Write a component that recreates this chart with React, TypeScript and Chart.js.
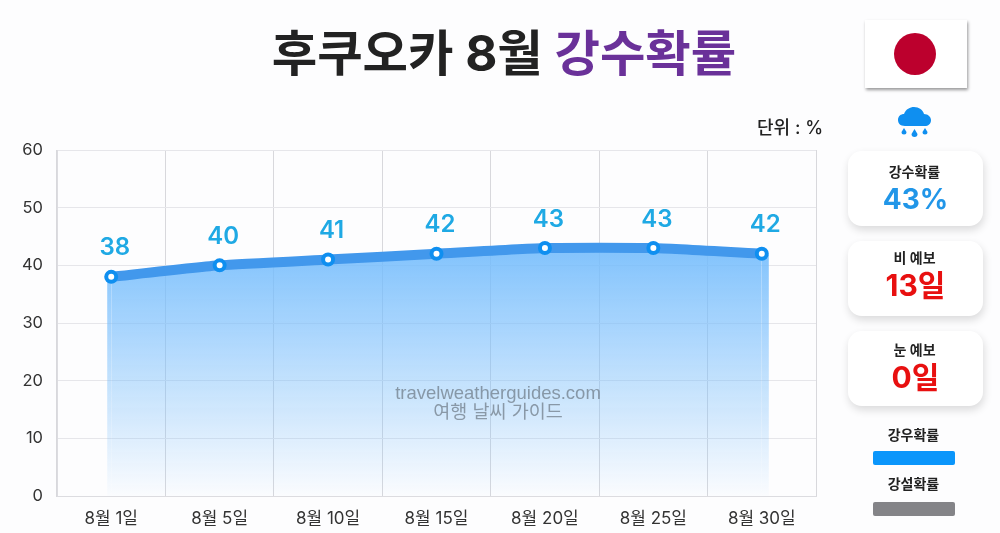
import React, { useEffect, useRef } from "react";
import { Chart, registerables } from "chart.js";
Chart.register(...registerables);

const categories = ["8월 1일", "8월 5일", "8월 10일", "8월 15일", "8월 20일", "8월 25일", "8월 30일"];
const rainChance = [38, 40, 41, 42, 43, 43, 42];
const yTicks = [0, 10, 20, 30, 40, 50, 60];

const KR = 'Inter, "Noto Sans CJK KR", sans-serif';
const NUM = 'Inter, "Noto Sans CJK KR", sans-serif';

const makeGradient = (chart: any) => {
  const a = chart.chartArea;
  const g = chart.ctx.createLinearGradient(0, 255, 0, a.bottom);
  g.addColorStop(0, "rgba(116,188,252,0.88)");
  g.addColorStop(1, "rgba(116,188,252,0.02)");
  return g;
};

const edgePlugin = {
  id: "fillEdges",
  beforeDatasetsDraw(chart: any) {
    const { ctx, chartArea } = chart;
    const pts = chart.getDatasetMeta(0).data;
    const first = pts[0];
    const last = pts[pts.length - 1];
    ctx.save();
    ctx.fillStyle = makeGradient(chart);
    ctx.fillRect(first.x - 4, first.y + 1, 4, chartArea.bottom - first.y - 1);
    ctx.fillRect(last.x, last.y + 1, 7, chartArea.bottom - last.y - 1);
    ctx.restore();
  },
};

const labelPlugin = {
  id: "valueLabels",
  afterDatasetsDraw(chart: any) {
    const { ctx } = chart;
    const meta = chart.getDatasetMeta(0);
    ctx.save();
    ctx.font = `600 24px ${NUM}`;
    ctx.fillStyle = "#1fa9e4";
    ctx.textAlign = "center";
    ctx.textBaseline = "alphabetic";
    meta.data.forEach((p: any, i: number) => {
      ctx.fillText(String(rainChance[i]), p.x + 3.5, p.y - 21.5);
    });
    ctx.restore();
  },
};

const box = (top: number, height: number, title: string, value: string, color: string, titleTop: number, valueTop: number, size: number) => (
  <div style={{ position: "absolute", left: 848, top, width: 135, height, background: "#fff", borderRadius: 14, boxShadow: "1px 4px 9px rgba(0,0,0,0.14)", textAlign: "center", fontFamily: KR }}>
    <div style={{ position: "absolute", left: -2, right: 0, top: titleTop, fontSize: 14, fontWeight: 600, color: "#222", lineHeight: "20px" }}>{title}</div>
    <div style={{ position: "absolute", left: 0, right: 0, top: valueTop, fontSize: size, fontWeight: 700, color, lineHeight: "38px" }}>{value}</div>
  </div>
);

export default function App() {
  const ref = useRef<HTMLCanvasElement>(null);
  useEffect(() => {
    const chart = new Chart(ref.current!, {
      type: "line",
      data: {
        labels: categories,
        datasets: [
          {
            data: rainChance,
            borderColor: "#4298ec",
            borderWidth: 10,
            tension: 0.15,
            pointRadius: 5,
            pointBorderWidth: 4,
            pointBackgroundColor: "#ffffff",
            pointBorderColor: "#0f8ff0",
            fill: true,
            backgroundColor: (c: any) => (c.chart.chartArea ? makeGradient(c.chart) : "rgba(0,0,0,0)"),
          },
        ],
      },
      options: {
        animation: false,
        responsive: false,
        layout: { padding: { top: 150, right: 184, left: 0, bottom: 0 } },
        plugins: { legend: { display: false }, tooltip: { enabled: false } },
        scales: {
          x: {
            offset: true,
            grid: { color: "#d8d8dc", lineWidth: 1, offset: true, tickLength: 0 },
            border: { color: "#dcdce0" },
            ticks: { color: "#333", font: { family: KR, size: 17 }, padding: 13, maxRotation: 0, autoSkip: false },
            afterFit: (s: any) => { s.height = 37; },
          },
          y: {
            min: 0,
            max: 60,
            afterBuildTicks: (s: any) => { s.ticks = yTicks.map((v) => ({ value: v })); },
            grid: { color: "#e6e6ea", lineWidth: 1, tickLength: 0 },
            border: { color: "#dcdce0" },
            ticks: { color: "#333", font: { family: NUM, size: 16.5 }, padding: 14 },
            afterFit: (s: any) => { s.width = 57; },
          },
        },
      },
      plugins: [edgePlugin, labelPlugin],
    } as any);
    return () => chart.destroy();
  }, []);

  return (
    <div style={{ position: "fixed", left: 0, top: 0, width: 1000, height: 533, overflow: "hidden", background: "#fdfdfe" }}>
      <canvas ref={ref} width={1000} height={533} style={{ position: "absolute", left: 0, top: 0, width: 1000, height: 533 }} />
      <div style={{ position: "absolute", left: 0, width: 1008, top: 16, textAlign: "center", fontFamily: KR, fontSize: 49.4, fontWeight: 700, lineHeight: "74px", color: "#222" }}>
        후쿠오카 8월 <span style={{ color: "#6a3199" }}>강수확률</span>
      </div>
      <div style={{ position: "absolute", left: 757, top: 116, fontFamily: KR, fontSize: 18, fontWeight: 500, color: "#222", lineHeight: "24px" }}>단위 : %</div>
      <div style={{ position: "absolute", left: 300, width: 396, top: 383, textAlign: "center", fontFamily: 'Liberation Sans, sans-serif', fontSize: 18.5, color: "rgba(90,100,110,0.6)", lineHeight: "20px" }}>travelweatherguides.com</div>
      <div style={{ position: "absolute", left: 300, width: 396, top: 400, textAlign: "center", fontFamily: KR, fontSize: 18.5, color: "rgba(90,100,110,0.6)", lineHeight: "22px" }}>여행 날씨 가이드</div>

      <div style={{ position: "absolute", left: 865, top: 20, width: 102, height: 68, background: "#fff", boxShadow: "1px 2px 3px rgba(0,0,0,0.4)" }}>
        <div style={{ position: "absolute", left: 29, top: 13, width: 42, height: 42, borderRadius: "50%", background: "#bc002d" }} />
      </div>
      <svg style={{ position: "absolute", left: 896, top: 105 }} width={38} height={34} viewBox="0 0 38 34">
        <path fill="#0f8ff0" d="M9 21 C4 21 2 18 2 15 C2 11 5 9 8 9 C10 4 14 2 18 2 C23 2 27 5 28 9 C32 9 35 12 35 15 C35 19 32 21 29 21 Z" />
        <path fill="#0f8ff0" d="M8 23 l2.5 4 a2.5 2.5 0 1 1 -5 0 Z M18.5 24 l3 5 a3 3 0 1 1 -6 0 Z M29 23 l2.5 4 a2.5 2.5 0 1 1 -5 0 Z" />
      </svg>

      {box(151, 75, "강수확률", "43%", "#2196e8", 11, 29, 28)}
      {box(241, 75, "비 예보", "13일", "#e81010", 7, 25, 30)}
      {box(331, 75, "눈 예보", "0일", "#e81010", 9, 27, 30)}

      <div style={{ position: "absolute", left: 848, width: 131, top: 425, textAlign: "center", fontFamily: KR, fontSize: 14, fontWeight: 600, color: "#222", lineHeight: "20px" }}>강우확률</div>
      <div style={{ position: "absolute", left: 873, top: 451, width: 82, height: 14, background: "#0b96fb", borderRadius: 2 }} />
      <div style={{ position: "absolute", left: 848, width: 131, top: 474, textAlign: "center", fontFamily: KR, fontSize: 14, fontWeight: 600, color: "#222", lineHeight: "20px" }}>강설확률</div>
      <div style={{ position: "absolute", left: 873, top: 502, width: 82, height: 14, background: "#848488", borderRadius: 2 }} />
    </div>
  );
}
